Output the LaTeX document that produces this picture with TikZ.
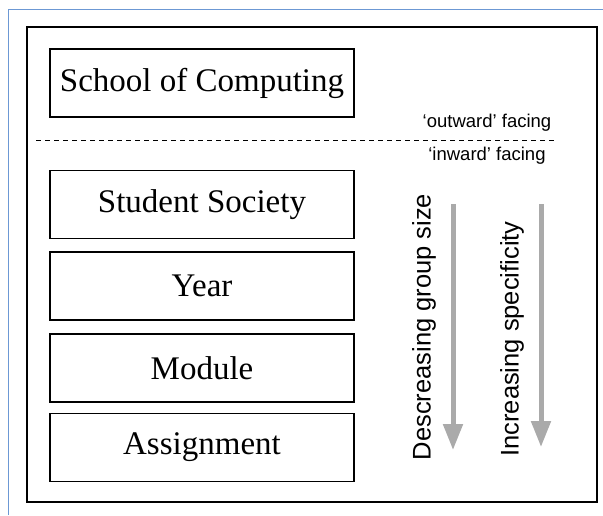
\documentclass[tikz,border=0pt]{standalone}
\usepackage{fontspec}
\setmainfont{Liberation Serif}
\newfontfamily\sidefont{Liberation Sans}
\usetikzlibrary{arrows.meta}
\definecolor{frameblue}{HTML}{6C98D4}
\definecolor{trendgray}{HTML}{AAAAAA}
\tikzset{level/.style = {shape = rectangle, draw, line width = 1.1pt, minimum width = 304pt, minimum height = 68pt, inner sep = 0pt, font = \fontsize{33}{38}\selectfont}}
\tikzset{facing/.style = {inner sep = 0pt, font = \sidefont\fontsize{18.5}{22}\selectfont}}
\tikzset{trendlabel/.style = {inner sep = 0pt, rotate = 90, font = \sidefont\fontsize{25.5}{30}\selectfont}}
\tikzset{trend/.style = {draw = trendgray, line width = 5pt, -{Triangle[width = 19pt, length = 26pt]}}}

\begin{document}
\begin{tikzpicture}[x = 1pt, y = -1pt]
				\useasboundingbox (0, 0) rectangle (603, 515);
				\draw[frameblue, line width = 1.4pt] (8.5, 515) -- (8.5, 9.5) -- (603, 9.5);
				\draw[line width = 1.1pt] (27, 27) rectangle (597, 502);

				\node[level] (school) at (202, 83) {School of Computing};
				\node[level] (society) at (202, 204.5) {Student Society};
				\node[level] (year) at (202, 286) {Year};
				\node[level] (module) at (202, 368) {Module};
				\node[level] (assignment) at (202, 447.5) {Assignment};

				\draw[dashed, line width = 0.8pt, dash pattern = on 5pt off 4pt] (36, 140) -- (556, 140);
				\node[facing] (outward) at (487, 123) {‘outward’ facing};
				\node[facing] (inward) at (487, 156) {‘inward’ facing};

				\node[trendlabel] (size) at (424, 327) {Descreasing group size};
				\node[trendlabel] (specific) at (512, 339) {Increasing specificity};

				\coordinate (sizetop) at (453, 204);
				\coordinate (sizeend) at (453, 450);
				\coordinate (spectop) at (541, 204);
				\coordinate (specend) at (541, 447);
				\draw[trend] (sizetop) to (sizeend);
				\draw[trend] (spectop) to (specend);
			\end{tikzpicture}
\end{document}
